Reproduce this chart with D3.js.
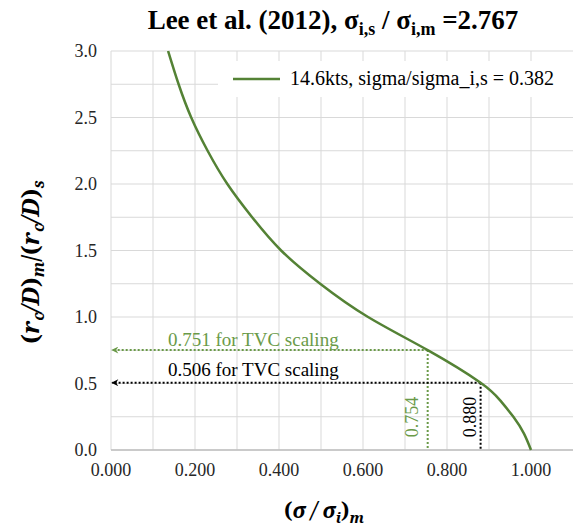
<!DOCTYPE html>
<html>
<head>
<meta charset="utf-8">
<script src="https://cdn.jsdelivr.net/npm/d3@7"></script>
<style>
  body { margin: 0; background: #fff; }
</style>
</head>
<body>
<div id="chart"></div>
<script>
// courbe
const sigmaRatio = [0.136, 0.161, 0.191, 0.230, 0.277, 0.336, 0.405, 0.498, 0.612, 0.754, 0.880, 0.926, 0.958, 0.983, 1.000];
const rcRatio = [3.0, 2.75, 2.50, 2.25, 2.00, 1.75, 1.50, 1.25, 1.00, 0.751, 0.506, 0.375, 0.25, 0.125, 0.0];

// repères TVC
const markX = [0.754, 0.880];
const markY = [0.751, 0.506];
const markLabels = ["0.751 for TVC scaling", "0.506 for TVC scaling"];
const markVLabels = ["0.754", "0.880"];

const xTicks = [0, 0.2, 0.4, 0.6, 0.8, 1.0];
const xMinor = [0, 0.1, 0.2, 0.3, 0.4, 0.5, 0.6, 0.7, 0.8, 0.9, 1.0];
const yTicks = [0, 0.5, 1.0, 1.5, 2.0, 2.5, 3.0];
const yMinor = [0, 0.25, 0.5, 0.75, 1.0, 1.25, 1.5, 1.75, 2.0, 2.25, 2.5, 2.75, 3.0];

const legendLabel = "14.6kts, sigma/sigma_i,s = 0.382";

const width = 573, height = 532;
const green = "#548235", greenText = "#6a9a48";
const serif = "'Liberation Serif', 'DejaVu Serif', serif";
const wide = "'Noto Serif', 'Liberation Serif', serif";

const svg = d3.select("#chart").append("svg")
  .attr("width", width)
  .attr("height", height)
  .attr("font-family", serif);

const x = d3.scaleLinear().domain([0, 1.1]).range([111, 573]);
const y = d3.scaleLinear().domain([0, 3]).range([450, 51]);

// grille
svg.append("g").selectAll("line")
  .data(xMinor)
  .enter().append("line")
  .attr("x1", d => x(d)).attr("x2", d => x(d))
  .attr("y1", y(0)).attr("y2", y(3))
  .attr("stroke", "#d9d9d9").attr("stroke-width", 1);

svg.append("g").selectAll("line")
  .data(yMinor)
  .enter().append("line")
  .attr("x1", x(0)).attr("x2", x(1.1))
  .attr("y1", d => y(d)).attr("y2", d => y(d))
  .attr("stroke", "#d9d9d9").attr("stroke-width", 1);

// axe du bas
svg.append("line")
  .attr("x1", x(0)).attr("x2", x(1.1))
  .attr("y1", y(0)).attr("y2", y(0))
  .attr("stroke", "#bfbfbf").attr("stroke-width", 1.5);

// étiquettes des axes
svg.append("g").selectAll("text")
  .data(xTicks)
  .enter().append("text")
  .attr("x", d => x(d))
  .attr("y", 476)
  .attr("text-anchor", "middle")
  .attr("font-size", "18px")
  .attr("fill", "#262626")
  .text(d => d3.format(".3f")(d));

svg.append("g").selectAll("text")
  .data(yTicks)
  .enter().append("text")
  .attr("x", 97)
  .attr("y", d => y(d) + 6)
  .attr("text-anchor", "end")
  .attr("font-size", "18px")
  .attr("fill", "#262626")
  .text(d => d3.format(".1f")(d));

// flèches
const defs = svg.append("defs");
[["arrowG", greenText], ["arrowK", "#000"]].forEach(([id, c]) => {
  defs.append("marker")
    .attr("id", id)
    .attr("viewBox", "0 0 10 10")
    .attr("refX", 9).attr("refY", 5)
    .attr("markerWidth", 8).attr("markerHeight", 7)
    .attr("markerUnits", "userSpaceOnUse")
    .attr("orient", "auto")
    .append("path")
    .attr("d", "M0,0 L10,5 L0,10 L3,5 Z")
    .attr("fill", c);
});

// traits pointillés
const markColors = [greenText, "#000"];
markX.forEach((mx, i) => {
  svg.append("line")
    .attr("x1", x(mx)).attr("x2", x(0) + 1)
    .attr("y1", y(markY[i])).attr("y2", y(markY[i]))
    .attr("stroke", markColors[i]).attr("stroke-width", 2)
    .attr("stroke-dasharray", "2,2")
    .attr("marker-end", i === 0 ? "url(#arrowG)" : "url(#arrowK)");
  svg.append("line")
    .attr("x1", x(mx)).attr("x2", x(mx))
    .attr("y1", y(markY[i])).attr("y2", y(0))
    .attr("stroke", markColors[i]).attr("stroke-width", 2)
    .attr("stroke-dasharray", "2,2");
  svg.append("text")
    .attr("x", 168)
    .attr("y", [346, 376][i])
    .attr("font-size", "19px")
    .attr("fill", markColors[i])
    .text(markLabels[i]);
  svg.append("text")
    .attr("transform", `translate(${[418, 476][i]},417) rotate(-90)`)
    .attr("text-anchor", "middle")
    .attr("font-size", "18px")
    .attr("fill", markColors[i])
    .text(markVLabels[i]);
});

// courbe
const line = d3.line()
  .x((d, i) => x(sigmaRatio[i]))
  .y(d => y(d))
  .curve(d3.curveNatural);

svg.append("path")
  .datum(rcRatio)
  .attr("d", line)
  .attr("fill", "none")
  .attr("stroke", green)
  .attr("stroke-width", 2.5);

// légende
svg.append("rect")
  .attr("x", 218).attr("y", 61)
  .attr("width", 355).attr("height", 36)
  .attr("fill", "#fff");
svg.append("line")
  .attr("x1", 233).attr("x2", 280)
  .attr("y1", 79).attr("y2", 79)
  .attr("stroke", green).attr("stroke-width", 2.5);
svg.append("text")
  .attr("x", 290).attr("y", 85)
  .attr("font-size", "20px")
  .attr("fill", "#000")
  .text(legendLabel);

// titre
const title = svg.append("text")
  .attr("x", 333).attr("y", 29)
  .attr("text-anchor", "middle")
  .attr("font-size", "27px")
  .attr("font-weight", "bold")
  .attr("fill", "#000");
title.append("tspan").text("Lee et al. (2012), σ");
title.append("tspan").attr("dy", 6).attr("font-size", "18px").text("i,s");
title.append("tspan").attr("dy", -6).text(" / σ");
title.append("tspan").attr("dy", 6).attr("font-size", "18px").text("i,m");
title.append("tspan").attr("dy", -6).text(" =2.767");

// titres des axes
const xt = svg.append("text")
  .attr("x", 324).attr("y", 518)
  .attr("text-anchor", "middle")
  .attr("font-family", wide)
  .attr("font-size", "21px")
  .attr("font-weight", "bold")
  .attr("fill", "#000");
xt.append("tspan").text("(");
xt.append("tspan").attr("font-style", "italic").text("σ / σ");
xt.append("tspan").attr("font-style", "italic").attr("dy", 5).attr("font-size", "15px").text("i");
xt.append("tspan").attr("dy", -5).text(")");
xt.append("tspan").attr("font-style", "italic").attr("dy", 5).attr("font-size", "15px").text("m");

const yt = svg.append("text")
  .attr("transform", "translate(39,262) rotate(-90)")
  .attr("text-anchor", "middle")
  .attr("font-family", wide)
  .attr("font-size", "24px")
  .attr("font-weight", "bold")
  .attr("fill", "#000");
yt.append("tspan").text("(");
yt.append("tspan").attr("font-style", "italic").text("r");
yt.append("tspan").attr("font-style", "italic").attr("dy", 5).attr("font-size", "16px").text("c");
yt.append("tspan").attr("dy", -5).attr("font-style", "italic").text("/D");
yt.append("tspan").text(")");
yt.append("tspan").attr("font-style", "italic").attr("dy", 5).attr("font-size", "16px").text("m");
yt.append("tspan").attr("dy", -5).text("/(");
yt.append("tspan").attr("font-style", "italic").text("r");
yt.append("tspan").attr("font-style", "italic").attr("dy", 5).attr("font-size", "16px").text("c");
yt.append("tspan").attr("dy", -5).attr("font-style", "italic").text("/D");
yt.append("tspan").text(")");
yt.append("tspan").attr("font-style", "italic").attr("dy", 5).attr("font-size", "16px").text("s");
</script>
</body>
</html>
